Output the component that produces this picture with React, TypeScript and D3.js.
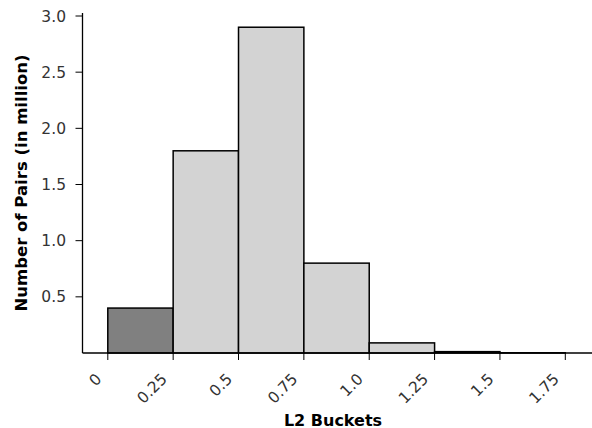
import React from "react";
import * as d3 from "d3";

const binStarts = [0, 0.25, 0.5, 0.75, 1.0, 1.25, 1.5];
const binWidth = 0.25;
const values = [0.4, 1.8, 2.9, 0.8, 0.09, 0.012, 0.002];
const highlighted = [true, false, false, false, false, false, false];
const xTicks = [0, 0.25, 0.5, 0.75, 1.0, 1.25, 1.5, 1.75];
const xTickLabels = ["0", "0.25", "0.5", "0.75", "1.0", "1.25", "1.5", "1.75"];
const yTicks = [0.5, 1.0, 1.5, 2.0, 2.5, 3.0];

export default function App() {
  const W = 592, H = 428;
  const x = d3.scaleLinear().domain([0, 1.75]).range([107.8, 565.3]);
  const y = d3.scaleLinear().domain([0, 3.0]).range([353, 16]);
  const left = 82.5, bottom = 353, spineTop = 13;
  const font = "DejaVu Sans, sans-serif";
  return (
    <svg width={W} height={H} style={{ position: "absolute", left: 0, top: 0, background: "#fff" }}>
      {binStarts.map((b, i) => (
        <rect key={i} x={x(b)} y={y(values[i])} width={x(b + binWidth) - x(b)}
          height={y(0) - y(values[i])}
          fill={highlighted[i] ? "#808080" : "#d3d3d3"} stroke="#000" strokeWidth={1.5} />
      ))}
      <line x1={left} x2={left} y1={spineTop} y2={bottom} stroke="#000" strokeWidth={1.3} />
      <line x1={left} x2={W} y1={bottom} y2={bottom} stroke="#000" strokeWidth={1.3} />
      {yTicks.map((t) => (
        <g key={t}>
          <line x1={left - 7} x2={left} y1={y(t)} y2={y(t)} stroke="#000" strokeWidth={1} />
          <text x={left - 16.5} y={y(t)} dy="0.36em" textAnchor="end" fontFamily={font} fontSize={15.5} fill="#333">
            {t.toFixed(1)}
          </text>
        </g>
      ))}
      {xTicks.map((t, i) => (
        <g key={t}>
          <line x1={x(t)} x2={x(t)} y1={bottom} y2={bottom + 7} stroke="#000" strokeWidth={1} />
          <text transform={`translate(${x(t) - 5.3},${bottom + 27}) rotate(-45)`} textAnchor="end"
            fontFamily={font} fontSize={15.5} fill="#333">
            {xTickLabels[i]}
          </text>
        </g>
      ))}
      <text x={333} y={425.5} textAnchor="middle" fontFamily={font} fontWeight="bold" fontSize={16} fill="#000">
        L2 Buckets
      </text>
      <text transform={`translate(27,183) rotate(-90)`} textAnchor="middle" fontFamily={font}
        fontWeight="bold" fontSize={16.5} fill="#000">
        Number of Pairs (in million)
      </text>
    </svg>
  );
}
